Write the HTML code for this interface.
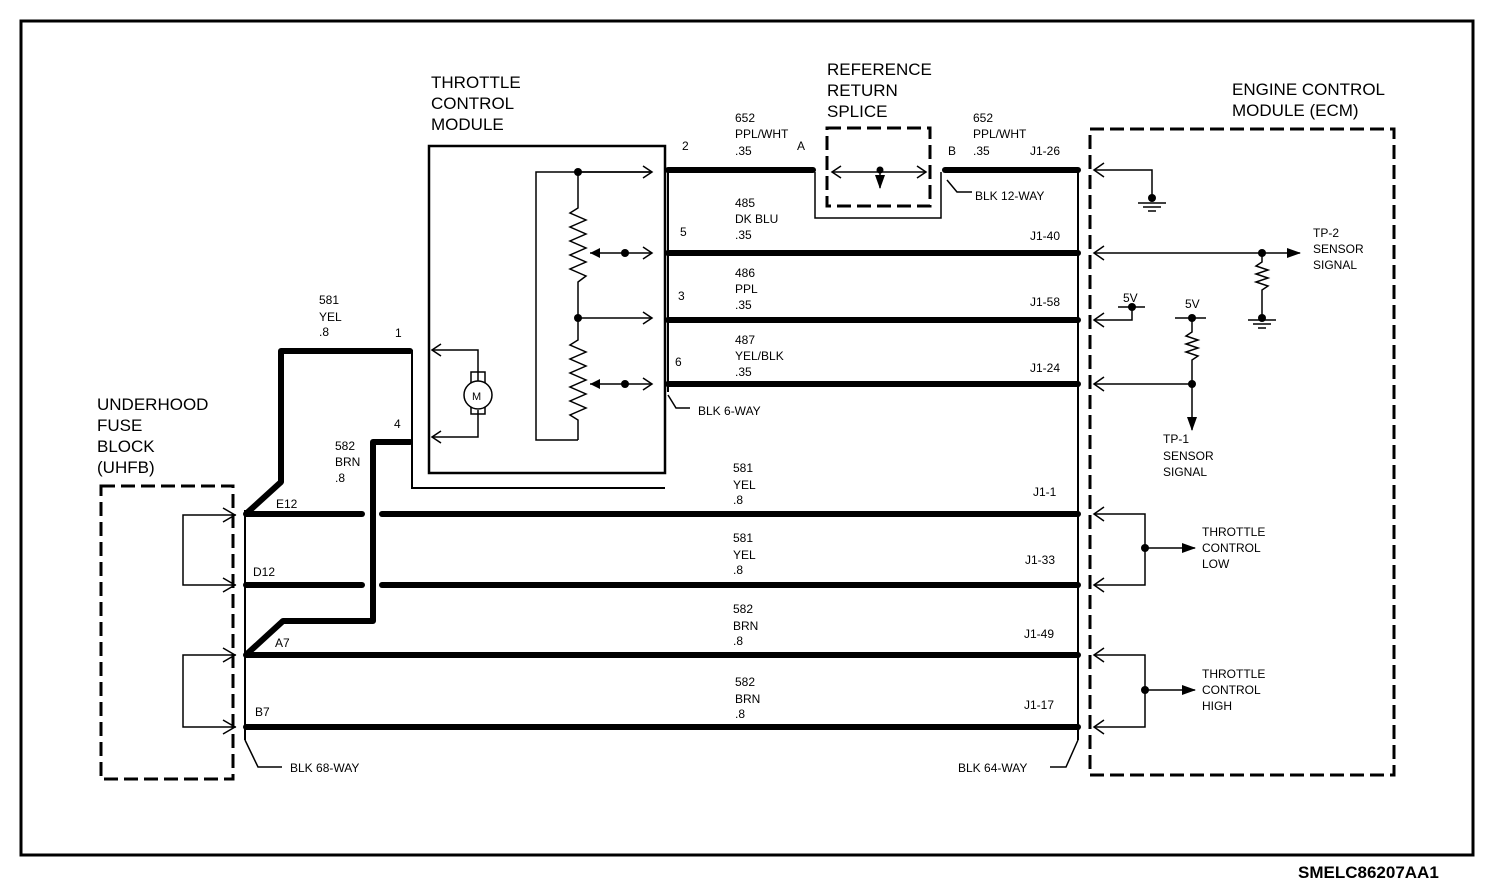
<!DOCTYPE html>
<html><head><meta charset="utf-8"><style>
html,body{margin:0;padding:0;background:#fff}
svg{display:block}
text{font-family:"Liberation Sans",Arial,sans-serif;fill:#000}
.s{font-size:12px}
.b{font-size:17px}
</style></head><body>
<svg width="1504" height="886" viewBox="0 0 1504 886" xmlns="http://www.w3.org/2000/svg">
<defs>
<marker id="ao" markerWidth="12" markerHeight="14" refX="10" refY="7" orient="auto" markerUnits="userSpaceOnUse"><path d="M1,1 L10,7 L1,13" fill="none" stroke="#000" stroke-width="1.5"/></marker>
<marker id="af" markerWidth="14" markerHeight="10" refX="13" refY="5" orient="auto" markerUnits="userSpaceOnUse"><path d="M0,0 L14,5 L0,10 Z" fill="#000"/></marker>
</defs>
<rect x="21" y="21" width="1452" height="834" fill="none" stroke="#000" stroke-width="3"/>
<text x="1298" y="878" font-size="17" font-weight="bold">SMELC86207AA1</text>

<g fill="none" stroke="#000" stroke-width="3" stroke-dasharray="14,6">
<rect x="101" y="486" width="132" height="293"/>
<rect x="1090" y="129" width="304" height="646"/>
<rect x="827" y="128" width="103" height="78"/>
</g>

<rect x="429" y="146" width="236" height="327" fill="none" stroke="#000" stroke-width="2.5"/>
<polyline points="412,350 412,488 665,488" fill="none" stroke="#000" stroke-width="2"/>

<g fill="none" stroke="#000" stroke-width="1.5">
<polyline points="652,172 536,172 536,440 578,440"/>
<line x1="578" y1="172" x2="652" y2="172" marker-end="url(#ao)"/>
<polyline points="578,172 578,208 570,213 586,220 570,227 586,234 570,241 586,248 570,255 586,262 570,269 586,276 578,282 578,340 570,345 586,352 570,359 586,366 570,373 586,380 570,387 586,394 570,401 586,408 570,415 578,420 578,440"/>
<line x1="578" y1="318" x2="652" y2="318" marker-end="url(#ao)"/>
<line x1="590" y1="253" x2="652" y2="253" marker-end="url(#ao)"/>
<line x1="590" y1="384" x2="652" y2="384" marker-end="url(#ao)"/>
<polyline points="478,385 478,350 432,350" marker-end="url(#ao)"/>
<polyline points="478,410 478,437 432,437" marker-end="url(#ao)"/>
<rect x="471" y="372" width="14" height="42"/>
</g>
<path d="M590,253 l10,-5 v10 z M590,384 l10,-5 v10 z" fill="#000"/>
<circle cx="478" cy="395" r="14" fill="#fff" stroke="#000" stroke-width="1.5"/>
<text x="472" y="400" font-size="11">M</text>
<g fill="#000"><circle cx="578" cy="172" r="4"/><circle cx="578" cy="318" r="4"/><circle cx="625" cy="253" r="4"/><circle cx="625" cy="384" r="4"/></g>

<g fill="none" stroke="#000" stroke-width="1.5">
<polyline points="815,172 815,218 941,218 941,172"/>
<line x1="880" y1="172" x2="832" y2="172" marker-end="url(#ao)"/>
<line x1="880" y1="172" x2="926" y2="172" marker-end="url(#ao)"/>
<line x1="880" y1="172" x2="880" y2="188" marker-end="url(#af)"/>
<polyline points="947,180 957,192 972,192"/>
<polyline points="668,395 676,408 690,408"/>
<polyline points="245,740 258,767 282,767"/>
<polyline points="1078,740 1066,767 1050,767"/>
</g>
<circle cx="880" cy="170" r="3.5" fill="#000"/>

<g stroke="#000" stroke-width="2" fill="none">
<line x1="668" y1="168" x2="668" y2="392"/>
<line x1="1078" y1="168" x2="1078" y2="740"/>
<line x1="245" y1="510" x2="245" y2="740"/>
</g>
<g stroke="#000" stroke-width="6" fill="none" stroke-linecap="round" stroke-linejoin="round">
<line x1="668" y1="170" x2="813" y2="170"/>
<line x1="945" y1="170" x2="1078" y2="170"/>
<line x1="668" y1="253" x2="1078" y2="253"/>
<line x1="668" y1="320" x2="1078" y2="320"/>
<line x1="668" y1="384" x2="1078" y2="384"/>
<line x1="246" y1="514" x2="362" y2="514"/>
<line x1="382" y1="514" x2="1078" y2="514"/>
<line x1="246" y1="585" x2="362" y2="585"/>
<line x1="382" y1="585" x2="1078" y2="585"/>
<line x1="246" y1="655" x2="1078" y2="655"/>
<line x1="246" y1="727" x2="1078" y2="727"/>
<polyline points="410,351 281,351 281,482 248,512"/>
<polyline points="410,442 373,442 373,621 283,621 248,653"/>
</g>

<g fill="none" stroke="#000" stroke-width="1.5">
<polyline points="236,515 183,515 183,585 236,585"/>
<polyline points="236,655 183,655 183,727 236,727"/>
<path d="M223,508 L235,515 L223,522 M223,578 L235,585 L223,592 M223,648 L235,655 L223,662 M223,720 L235,727 L223,734"/>
</g>

<g fill="none" stroke="#000" stroke-width="1.5">
<path d="M1104,163 L1094,170 L1104,177 M1104,246 L1094,253 L1104,260 M1104,313 L1094,320 L1104,327 M1104,377 L1094,384 L1104,391 M1104,507 L1094,514 L1104,521 M1104,578 L1094,585 L1104,592 M1104,648 L1094,655 L1104,662 M1104,720 L1094,727 L1104,734"/>
<polyline points="1094,170 1152,170 1152,198"/>
<line x1="1138" y1="203" x2="1166" y2="203"/><line x1="1143" y1="207" x2="1161" y2="207"/><line x1="1148" y1="211" x2="1156" y2="211"/>
<line x1="1094" y1="253" x2="1300" y2="253" marker-end="url(#af)"/>
<polyline points="1262,253 1262,262 1256,266 1268,270 1256,274 1268,278 1256,282 1268,286 1262,290 1262,318"/>
<line x1="1248" y1="320" x2="1276" y2="320"/><line x1="1253" y1="324" x2="1271" y2="324"/><line x1="1258" y1="328" x2="1266" y2="328"/>
<polyline points="1094,320 1132,320 1132,307"/>
<line x1="1118" y1="307" x2="1145" y2="307"/>
<line x1="1175" y1="318" x2="1206" y2="318"/>
<polyline points="1192,318 1192,332 1186,336 1198,340 1186,344 1198,348 1186,352 1198,356 1192,360 1192,384"/>
<line x1="1094" y1="384" x2="1192" y2="384"/>
<line x1="1192" y1="384" x2="1192" y2="430" marker-end="url(#af)"/>
<polyline points="1094,514 1145,514 1145,585 1094,585"/>
<line x1="1145" y1="548" x2="1195" y2="548" marker-end="url(#af)"/>
<polyline points="1094,655 1145,655 1145,727 1094,727"/>
<line x1="1145" y1="690" x2="1195" y2="690" marker-end="url(#af)"/>
</g>
<g fill="#000"><circle cx="1152" cy="198" r="4"/><circle cx="1262" cy="253" r="4"/><circle cx="1262" cy="318" r="4"/><circle cx="1132" cy="307" r="4"/><circle cx="1192" cy="318" r="4"/><circle cx="1192" cy="384" r="4"/><circle cx="1145" cy="548" r="4"/><circle cx="1145" cy="690" r="4"/></g>

<g class="b">
<text x="431" y="88">THROTTLE</text><text x="431" y="109">CONTROL</text><text x="431" y="130">MODULE</text>
<text x="827" y="75">REFERENCE</text><text x="827" y="96">RETURN</text><text x="827" y="117">SPLICE</text>
<text x="1232" y="95">ENGINE CONTROL</text><text x="1232" y="116">MODULE (ECM)</text>
<text x="97" y="410">UNDERHOOD</text><text x="97" y="431">FUSE</text><text x="97" y="452">BLOCK</text><text x="97" y="473">(UHFB)</text>
</g>
<g class="s">
<text x="735" y="122">652</text><text x="735" y="138">PPL/WHT</text><text x="735" y="155">.35</text>
<text x="682" y="150">2</text><text x="797" y="150">A</text><text x="948" y="155">B</text>
<text x="973" y="122">652</text><text x="973" y="138">PPL/WHT</text><text x="973" y="155">.35</text><text x="1030" y="155">J1-26</text>
<text x="975" y="200">BLK 12-WAY</text>
<text x="735" y="207">485</text><text x="735" y="223">DK BLU</text><text x="735" y="239">.35</text><text x="680" y="236">5</text><text x="1030" y="240">J1-40</text>
<text x="735" y="277">486</text><text x="735" y="293">PPL</text><text x="735" y="309">.35</text><text x="678" y="300">3</text><text x="1030" y="306">J1-58</text>
<text x="735" y="344">487</text><text x="735" y="360">YEL/BLK</text><text x="735" y="376">.35</text><text x="675" y="366">6</text><text x="1030" y="372">J1-24</text>
<text x="698" y="415">BLK 6-WAY</text>
<text x="733" y="472">581</text><text x="733" y="489">YEL</text><text x="733" y="504">.8</text><text x="1033" y="496">J1-1</text>
<text x="733" y="542">581</text><text x="733" y="559">YEL</text><text x="733" y="574">.8</text><text x="1025" y="564">J1-33</text>
<text x="733" y="613">582</text><text x="733" y="630">BRN</text><text x="733" y="645">.8</text><text x="1024" y="638">J1-49</text>
<text x="735" y="686">582</text><text x="735" y="703">BRN</text><text x="735" y="718">.8</text><text x="1024" y="709">J1-17</text>
<text x="958" y="772">BLK 64-WAY</text>
<text x="290" y="772">BLK 68-WAY</text>
<text x="319" y="304">581</text><text x="319" y="321">YEL</text><text x="319" y="336">.8</text>
<text x="395" y="337">1</text><text x="394" y="428">4</text>
<text x="335" y="450">582</text><text x="335" y="466">BRN</text><text x="335" y="482">.8</text>
<text x="276" y="508">E12</text><text x="253" y="576">D12</text><text x="275" y="647">A7</text><text x="255" y="716">B7</text>
<text x="1123" y="302">5V</text><text x="1185" y="308">5V</text>
<text x="1313" y="237">TP-2</text><text x="1313" y="253">SENSOR</text><text x="1313" y="269">SIGNAL</text>
<text x="1163" y="443">TP-1</text><text x="1163" y="460">SENSOR</text><text x="1163" y="476">SIGNAL</text>
<text x="1202" y="536">THROTTLE</text><text x="1202" y="552">CONTROL</text><text x="1202" y="568">LOW</text>
<text x="1202" y="678">THROTTLE</text><text x="1202" y="694">CONTROL</text><text x="1202" y="710">HIGH</text>
</g>
</svg>
</body></html>
